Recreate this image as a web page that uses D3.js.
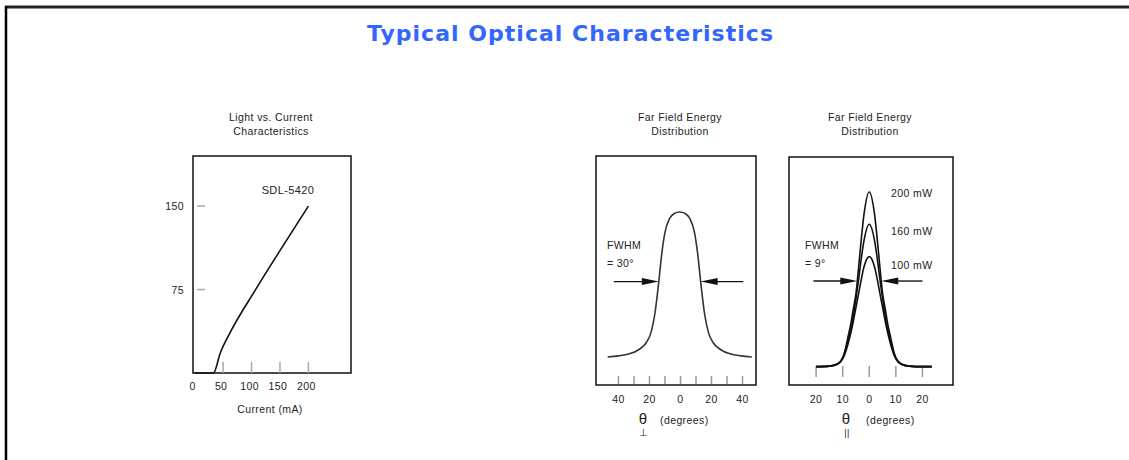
<!DOCTYPE html>
<html>
<head>
<meta charset="utf-8">
<script src="https://cdn.jsdelivr.net/npm/d3@7"></script>
<style>
body { margin: 0; background: #fff; }
text { font-family: "Liberation Sans", Arial, sans-serif; fill: #222; }
</style>
</head>
<body>
<div id="chart"></div>
<script>
let width = 1129;
let height = 460;

// Light vs. current
let lightCurrent = [0, 33, 45, 62, 106, 150, 200];
let lightPower = [0, 0, 18, 36, 74, 110, 150];
let lightXTicks = [0, 50, 100, 150, 200];
let lightYTicks = [75, 150];

// Far field, perpendicular
let perpAngle = [-47, -40, -33, -27, -22, -19, -16.5, -14, -12, -10, -7, -4, -0.5, 3, 6, 9, 11, 13, 15.5, 18, 21, 26, 32, 39, 46];
let perpIntensity = [0, 0.008, 0.022, 0.05, 0.1, 0.17, 0.3, 0.52, 0.72, 0.86, 0.955, 0.99, 1, 0.99, 0.955, 0.86, 0.72, 0.52, 0.3, 0.17, 0.1, 0.05, 0.022, 0.008, 0];
let perpTicks = [-40, -30, -20, -10, 0, 10, 20, 30, 40];
let perpLabels = [-40, -20, 0, 20, 40];
let perpFwhm = 30;
let perpHalf = 0.52;

// Far field, parallel
let parAngle = [-20, -15, -12, -10, -9, -8, -7, -6, -5, -4, -3, -2, 0, 2, 3, 4, 5, 6, 7, 8, 9, 10, 12, 15, 20, 23.5];
let par200 = [0, 0.003, 0.015, 0.05, 0.1, 0.17, 0.24, 0.33, 0.42, 0.57, 0.73, 0.87, 1, 0.87, 0.73, 0.57, 0.42, 0.33, 0.24, 0.17, 0.1, 0.05, 0.015, 0.003, 0, 0];
let par160 = [0, 0.003, 0.015, 0.05, 0.09, 0.15, 0.21, 0.29, 0.39, 0.5, 0.62, 0.72, 0.815, 0.72, 0.62, 0.5, 0.39, 0.29, 0.21, 0.15, 0.09, 0.05, 0.015, 0.003, 0, 0];
let par100 = [0, 0.003, 0.013, 0.045, 0.08, 0.13, 0.19, 0.26, 0.34, 0.42, 0.5, 0.57, 0.63, 0.57, 0.5, 0.42, 0.34, 0.26, 0.19, 0.13, 0.08, 0.045, 0.013, 0.003, 0, 0];
let parSeries = ["200 mW", "160 mW", "100 mW"];
let parTicks = [-20, -10, 0, 10, 20];
let parFwhm = 9;
let parHalf = 0.49;

let svg = d3.select("#chart")
    .append("svg")
    .attr("width", width)
    .attr("height", height);

// page frame
svg.append("line").attr("x1", 5).attr("x2", width).attr("y1", 7).attr("y2", 7)
    .attr("stroke", "#222").attr("stroke-width", 3);
svg.append("line").attr("x1", 6).attr("x2", 6).attr("y1", 6).attr("y2", height)
    .attr("stroke", "#000").attr("stroke-width", 2.5);

svg.append("text")
    .attr("x", 570).attr("y", 41)
    .attr("text-anchor", "middle")
    .attr("textLength", 406)
    .style("font-family", "'DejaVu Sans', Verdana, sans-serif")
    .style("font-weight", "bold")
    .style("font-size", "22px")
    .style("fill", "#3366ff")
    .text("Typical Optical Characteristics");

function label(x, y, str, anchor, size) {
    return svg.append("text")
        .attr("x", x).attr("y", y)
        .attr("text-anchor", anchor || "middle")
        .style("font-size", (size || 10.5) + "px")
        .style("letter-spacing", "0.4px")
        .text(str);
}

function box(b) {
    svg.append("rect")
        .attr("x", b.left).attr("y", b.top)
        .attr("width", b.right - b.left).attr("height", b.bottom - b.top)
        .attr("fill", "none").attr("stroke", "#111").attr("stroke-width", 1.5);
}

function arrow(x0, tip, y, dir) {
    svg.append("line").attr("x1", x0).attr("x2", tip - dir * 10).attr("y1", y).attr("y2", y)
        .attr("stroke", "#111").attr("stroke-width", 1.4);
    svg.append("polygon")
        .attr("points", [[tip, y], [tip - dir * 17, y - 3.5], [tip - dir * 17, y + 3.5]].join(" "))
        .attr("fill", "#111");
}

// ---- Light vs. Current ----
let lb = {left: 193, right: 351, top: 156, bottom: 373};
let xL = d3.scaleLinear().domain([-3, 275]).range([lb.left, lb.right]);
let yL = d3.scaleLinear().domain([0, 195]).range([lb.bottom, lb.top]);

box(lb);
svg.selectAll(".lxt").data(lightXTicks.filter(d => d > 0)).enter().append("line")
    .attr("x1", d => xL(d)).attr("x2", d => xL(d))
    .attr("y1", lb.bottom - 11).attr("y2", lb.bottom)
    .attr("stroke", "#aaa").attr("stroke-width", 1.5);
svg.selectAll(".lyt").data(lightYTicks).enter().append("line")
    .attr("x1", lb.left + 4).attr("x2", lb.left + 12)
    .attr("y1", d => yL(d)).attr("y2", d => yL(d))
    .attr("stroke", "#aaa").attr("stroke-width", 1.5);
lightXTicks.forEach(d => label(xL(d) - 2, lb.bottom + 17, d));
lightYTicks.forEach(d => label(184, yL(d) + 4, d, "end"));

svg.append("path")
    .datum(d3.zip(lightCurrent, lightPower))
    .attr("d", d3.line().x(d => xL(d[0])).y(d => yL(d[1])).curve(d3.curveMonotoneX))
    .attr("fill", "none").attr("stroke", "#111").attr("stroke-width", 1.6);

label(288, 194, "SDL-5420", "middle", 11);
label(271, 121, "Light vs. Current");
label(271, 135, "Characteristics");
label(270, 413, "Current (mA)");

// ---- Far field, perpendicular ----
let mb = {left: 596, right: 756, top: 156, bottom: 385};
let xM = d3.scaleLinear().domain([-54.5, 48.7]).range([mb.left, mb.right]);
let yM = d3.scaleLinear().domain([-0.193, 1.386]).range([mb.bottom, mb.top]);

box(mb);
svg.selectAll(".mt").data(perpTicks).enter().append("line")
    .attr("x1", d => xM(d)).attr("x2", d => xM(d))
    .attr("y1", mb.bottom - 9).attr("y2", mb.bottom - 1)
    .attr("stroke", "#999").attr("stroke-width", 1.5);
perpLabels.forEach(d => label(xM(d), 403, Math.abs(d)));

svg.append("path")
    .datum(d3.zip(perpAngle, perpIntensity))
    .attr("d", d3.line().x(d => xM(d[0])).y(d => yM(d[1])).curve(d3.curveMonotoneX))
    .attr("fill", "none").attr("stroke", "#333").attr("stroke-width", 1.6);

arrow(xM(-43), xM(-perpFwhm / 2 + 1), yM(perpHalf), 1);
arrow(xM(40.5), xM(perpFwhm / 2 - 2), yM(perpHalf), -1);

label(607, 249, "FWHM", "start");
label(607, 267, "= " + perpFwhm + "°", "start");
label(680, 121, "Far Field Energy");
label(680, 135, "Distribution");
label(643, 424, "θ", "middle", 15);
label(644, 436, "⊥", "middle", 10);
label(660, 424, "(degrees)", "start");

// ---- Far field, parallel ----
let rb = {left: 789, right: 953, top: 157, bottom: 385};
let xR = d3.scaleLinear().domain([-30.2, 31.5]).range([rb.left, rb.right]);
let yR = d3.scaleLinear().domain([-0.105, 1.2]).range([rb.bottom, rb.top]);

box(rb);
svg.selectAll(".rt").data(parTicks).enter().append("line")
    .attr("x1", d => xR(d)).attr("x2", d => xR(d))
    .attr("y1", rb.bottom - 19).attr("y2", rb.bottom - 8)
    .attr("stroke", "#999").attr("stroke-width", 1.5);
parTicks.forEach(d => label(xR(d), 403, Math.abs(d)));

let parLine = d3.line().x(d => xR(d[0])).y(d => yR(d[1])).curve(d3.curveMonotoneX);
[par200, par160, par100].forEach(function (vals) {
    svg.append("path")
        .datum(d3.zip(parAngle, vals))
        .attr("d", parLine)
        .attr("fill", "none").attr("stroke", "#111").attr("stroke-width", 1.6);
});

let peakOffset = [5, 11, 12];
[par200, par160, par100].forEach(function (vals, i) {
    label(891, yR(d3.max(vals)) + peakOffset[i], parSeries[i], "start");
});

arrow(xR(-21), xR(-parFwhm / 2), yR(parHalf), 1);
arrow(xR(20), xR(parFwhm / 2), yR(parHalf), -1);

label(805, 249, "FWHM", "start");
label(805, 267, "= " + parFwhm + "°", "start");
label(870, 121, "Far Field Energy");
label(870, 135, "Distribution");
label(846, 424, "θ", "middle", 15);
label(847, 436, "||", "middle", 9);
label(866, 424, "(degrees)", "start");
</script>
</body>
</html>
